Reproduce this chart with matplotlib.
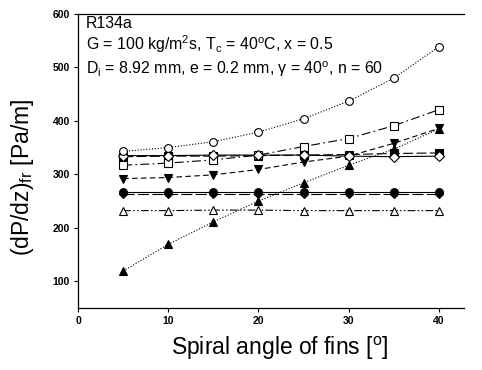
import matplotlib
matplotlib.use('Agg')
import matplotlib.pyplot as plt

plt.rcParams['font.family'] = ['Liberation Sans', 'DejaVu Sans']
plt.rcParams['mathtext.fontset'] = 'custom'
plt.rcParams['mathtext.rm'] = 'Liberation Sans'
plt.rcParams['mathtext.it'] = 'Liberation Sans'

# spiral angle of fins [deg]
angle = [5, 10, 15, 20, 25, 30, 35, 40]

# pressure drop series [Pa/m]
open_circle = [343, 350, 361, 379, 404, 437, 480, 539]
open_square = [317, 321, 327, 336, 352, 367, 391, 421]
filled_down = [292, 294, 299, 309, 323, 334, 358, 386]
filled_up = [119, 169, 211, 250, 284, 317, 347, 385]
filled_square = [333, 334, 334, 335, 336, 337, 339, 340]
open_diamond = [335, 335, 336, 336, 336, 334, 333, 334]
filled_diamond = [263, 263, 263, 263, 263, 263, 263, 263]
filled_circle = [266, 266, 266, 266, 266, 266, 266, 266]
open_triangle = [232, 232, 233, 233, 232, 232, 232, 232]

x_ticks = [0, 10, 20, 30, 40]
y_ticks = [100, 200, 300, 400, 500, 600]

fig = plt.figure(figsize=(4.82, 3.70), dpi=100)
ax = fig.add_axes([0.162, 0.168, 0.801, 0.794])

lw = 0.8
ms = 5.6
k = 'black'

# (values, marker, filled, linestyle)
series = [
    (filled_square, 's', True, (0, (9, 3))),
    (filled_diamond, 'D', True, (0, (10, 3))),
    (filled_circle, 'o', True, '-'),
    (open_triangle, '^', False, (0, (7, 2, 1.5, 2, 1.5, 2))),
    (open_square, 's', False, (0, (8, 3, 1.5, 3))),
    (filled_down, 'v', True, (0, (5, 3))),
    (open_diamond, 'D', False, '-'),
    (open_circle, 'o', False, (0, (1, 1.6))),
    (filled_up, '^', True, (0, (1, 1.6))),
]

for vals, mk, filled, ls in series:
    size = ms
    if vals is filled_diamond:
        size = ms - 1.6
    elif mk == 'D':
        size = ms - 0.6
    ax.plot(angle, vals, color=k, linestyle=ls, linewidth=lw,
            marker=mk, markersize=size,
            markerfacecolor=k if filled else 'white',
            markeredgecolor=k, markeredgewidth=0.8)

ax.set_xlim(0, 42.8)
ax.set_ylim(50, 600)
ax.set_xticks(x_ticks)
ax.set_yticks(y_ticks)
ax.tick_params(direction='out', length=3, width=0.8, labelsize=7.5, pad=3)
for lab in ax.get_xticklabels() + ax.get_yticklabels():
    lab.set_fontweight('bold')
ax.spines['right'].set_visible(False)
for s in ['left', 'bottom', 'top']:
    ax.spines[s].set_linewidth(0.9)

ax.set_xlabel('Spiral angle of fins [$^{\\mathrm{o}}$]', fontsize=16.5)
ax.set_ylabel('(dP/dz)$_{\\mathrm{fr}}$ [Pa/m]', fontsize=16.5)
ax.xaxis.set_label_coords(0.523, -0.092)
ax.yaxis.set_label_coords(-0.11, 0.445)

tx = 0.021
ax.text(tx, 0.968, 'R134a', transform=ax.transAxes, fontsize=11.4, va='center')
ax.text(tx, 0.898, 'G = 100 kg/m$^2$s, T$_c$ = 40$^o$C, x = 0.5',
        transform=ax.transAxes, fontsize=11.4, va='center')
ax.text(tx, 0.813, 'D$_i$ = 8.92 mm, e = 0.2 mm, $\\gamma$ = 40$^o$, n = 60',
        transform=ax.transAxes, fontsize=11.4, va='center')

fig.savefig('out.png', dpi=100)
